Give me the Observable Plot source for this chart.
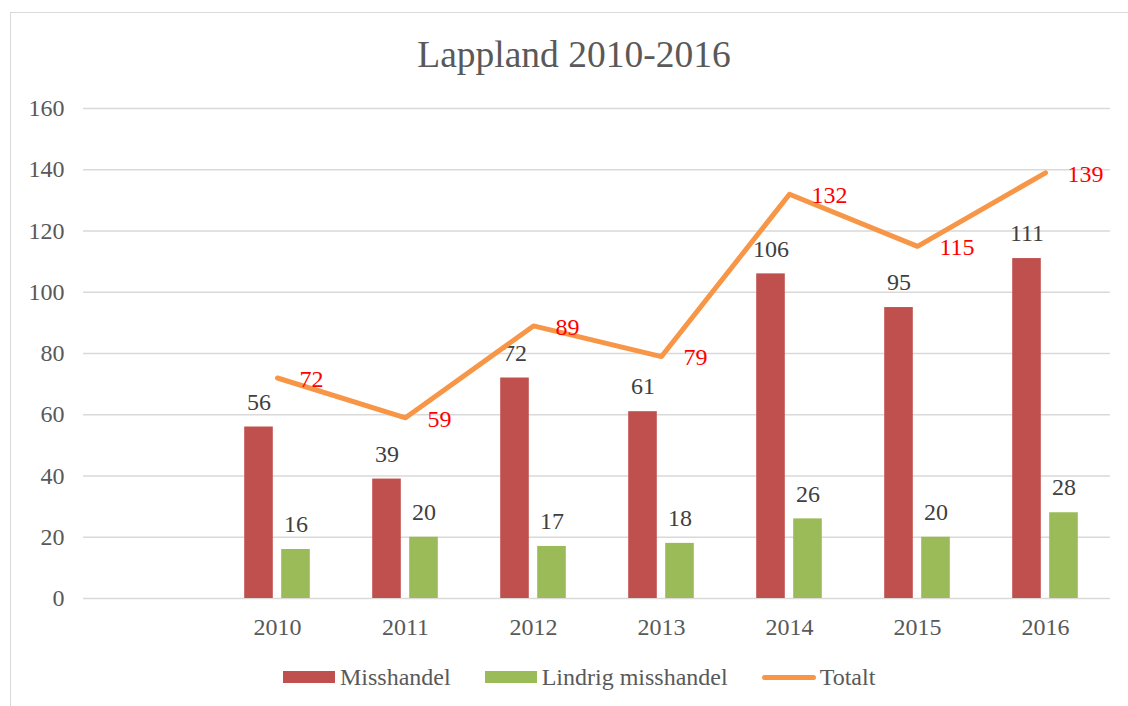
<!DOCTYPE html>
<html>
<head>
<meta charset="utf-8">
<script src="https://cdn.jsdelivr.net/npm/d3@7"></script>
<script src="https://cdn.jsdelivr.net/npm/@observablehq/plot@0.6"></script>
<style>
  html, body { margin: 0; padding: 0; background: #fff; }
  #wrap { position: relative; width: 1128px; height: 706px; overflow: hidden; font-family: "Liberation Serif", "Times New Roman", serif; }
  #frame { position: absolute; left: 10px; top: 12px; width: 1140px; height: 720px; border: 1px solid #d9d9d9; box-sizing: border-box; }
  #title { position: absolute; left: 10px; width: 1128px; top: 36px; text-align: center; font-size: 37.5px; line-height: 37.5px; color: #595959; }
  #chart { position: absolute; left: 0; top: 90px; }
  #legend { position: absolute; left: 283px; top: 665px; display: flex; align-items: center; font-size: 24px; line-height: 24px; color: #595959; }
  .item { display: flex; align-items: center; margin-right: 34px; }
  .sw { width: 52px; height: 12px; margin-right: 5px; }
  .ln { width: 54px; height: 5px; border-radius: 3px; margin-right: 4px; }
</style>
</head>
<body>
<div id="wrap">
  <div id="frame"></div>
  <div id="title">Lappland 2010-2016</div>
  <div id="chart"></div>
  <div id="legend"></div>
</div>
<script>
// Category axis (first category is blank in the original chart)
const categories = ["", "2010", "2011", "2012", "2013", "2014", "2015", "2016"];
const years = ["2010", "2011", "2012", "2013", "2014", "2015", "2016"];
const misshandel = [56, 39, 72, 61, 106, 95, 111];
const lindrig = [16, 20, 17, 18, 26, 20, 28];
const totalt = [72, 59, 89, 79, 132, 115, 139];
const yTicks = [0, 20, 40, 60, 80, 100, 120, 140, 160];
const seriesNames = ["Misshandel", "Lindrig misshandel", "Totalt"];
const seriesColors = ["#C0504D", "#9BBB59", "#F79646"];

const rows = years.map((y, i) => ({year: y, m: misshandel[i], l: lindrig[i], t: totalt[i]}));

const fontFamily = '"Liberation Serif", "Times New Roman", serif';

const chart = Plot.plot({
  width: 1128,
  height: 558,
  marginLeft: 83,
  marginRight: 18,
  marginTop: 18,
  marginBottom: 50,
  style: {fontFamily, fontSize: "24px", color: "#595959", background: "transparent", overflow: "visible"},
  x: {type: "band", domain: categories, padding: 0, label: null},
  y: {domain: [0, 160], label: null},
  marks: [
    Plot.gridY(yTicks, {stroke: "#d9d9d9", strokeOpacity: 1, strokeWidth: 1.5}),
    Plot.axisY(yTicks, {tickSize: 0, tickPadding: 19, fill: "#595959", label: null, fontFamily}),
    Plot.axisX({tickSize: 0, tickPadding: 19, fill: "#595959", label: null, fontFamily}),
    Plot.barY(rows, {x: "year", y: "m", fill: seriesColors[0], insetLeft: 31.2, insetRight: 68.2}),
    Plot.barY(rows, {x: "year", y: "l", fill: seriesColors[1], insetLeft: 68.2, insetRight: 31.2}),
    Plot.text(rows, {x: "year", y: "m", text: d => String(d.m), dx: -18.5, dy: -25, fill: "#404040", fontSize: 24, fontFamily}),
    Plot.text(rows, {x: "year", y: "l", text: d => String(d.l), dx: 18.5, dy: -25, fill: "#404040", fontSize: 24, fontFamily}),
    Plot.line(rows, {x: "year", y: "t", stroke: seriesColors[2], strokeWidth: 5, strokeLinecap: "round", strokeLinejoin: "round"}),
    Plot.text(rows, {x: "year", y: "t", text: d => String(d.t), dx: 22, dy: 1, textAnchor: "start", fill: "#FF0000", fontSize: 24, fontFamily})
  ]
});
document.getElementById("chart").appendChild(chart);

const legend = document.getElementById("legend");
seriesNames.forEach((name, i) => {
  const item = document.createElement("div");
  item.className = "item";
  const sw = document.createElement("div");
  sw.className = i === 2 ? "ln" : "sw";
  sw.style.background = seriesColors[i];
  const label = document.createElement("span");
  label.textContent = name;
  item.appendChild(sw);
  item.appendChild(label);
  legend.appendChild(item);
});
</script>
</body>
</html>
